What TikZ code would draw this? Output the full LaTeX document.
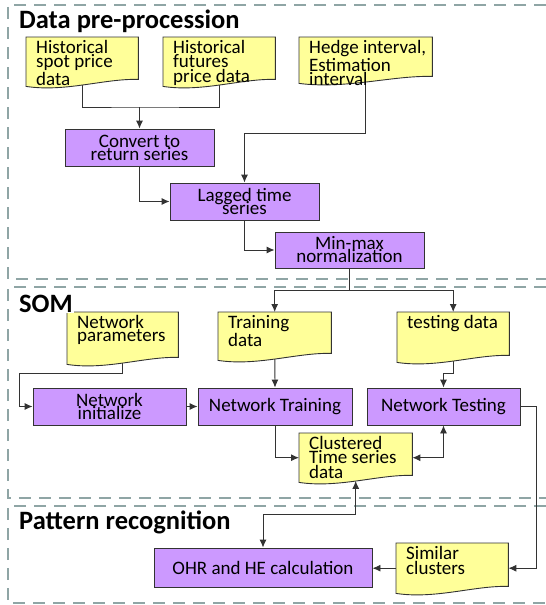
\documentclass[tikz,border=0pt]{standalone}
\usepackage{fontspec}
\setmainfont{Carlito}
\usetikzlibrary{arrows.meta,calc}
\pgfdeclarelayer{frames}
\pgfdeclarelayer{wires}
\pgfdeclarelayer{shapes}
\pgfsetlayers{frames,wires,shapes,main}
\definecolor{docfill}{HTML}{FFFF99}
\definecolor{procfill}{HTML}{CC99FF}
\definecolor{framegray}{HTML}{8FA5A5}
\definecolor{edgecol}{HTML}{333333}
\lineskiplimit=-30pt\relax
\newcommand\doctext[3]{\parbox[c][#2pt][t]{#1pt}{\raggedright\leftskip=10pt\relax\rule{0pt}{16.5pt}#3}}
\newcommand\docshape[1]{%
  \begin{pgfonlayer}{shapes}
  \draw[docline] (#1.north west) -- (#1.north east) -- ($(#1.south east)+(0,-7)$)
    .. controls ($(#1.south west)!0.7!(#1.south east)+(0,-8)$) and ($(#1.south west)!0.35!(#1.south east)+(0,6)$) .. (#1.south west) -- cycle;
  \end{pgfonlayer}}
\tikzset{
  txt/.style={font=\fontsize{19}{13}\selectfont},
  docn/.style={txt, inner sep=0pt, anchor=north west},
  docline/.style={draw=edgecol, fill=docfill, line width=0.9pt},
  proc/.style={txt, draw=edgecol, fill=procfill, line width=0.9pt, align=center, inner sep=0pt},
  wire/.style={draw=edgecol, line width=0.9pt},
  arr/.style={wire, -{Latex[length=8pt,width=7pt]}},
  arr2/.style={wire, {Latex[length=8pt,width=7pt]}-{Latex[length=8pt,width=7pt]}},
  frame/.style={draw=framegray, line width=2.6pt, dash pattern=on 12pt off 8pt},
  title/.style={font=\fontsize{26.5}{28}\selectfont\bfseries, inner sep=0pt, anchor=base west},
}
\begin{document}
\begin{tikzpicture}[x=1pt,y=-1pt]
\useasboundingbox (0,0) rectangle (546,605);
% frames
\begin{pgfonlayer}{frames}
\draw[frame] (546,5) -- (8,5) -- (8,279) -- (546,279);
\draw[frame] (546,287) -- (8,287) -- (8,498) -- (546,498);
\draw[frame] (546,506) -- (8,506) -- (8,603) -- (546,603);
\end{pgfonlayer}
% documents
\node[docn] (d1) at (26,37) {\doctext{112}{49}{Historical\\spot price\\data}};
\node[docn] (d2) at (163,37) {\doctext{112}{49}{Historical\\futures\\price data}};
\node[docn] (d3) at (299,37) {\doctext{133}{46}{Hedge interval,\\Estimation\\interval}};
\node[docn] (par) at (67,312) {\doctext{111}{52}{Network\\parameters}};
\node[docn] (trd) at (218,312) {\doctext{113}{48}{Training\\data}};
\node[docn] (tsd) at (397,312) {\doctext{112}{50}{testing data}};
\node[docn] (clu) at (299,433) {\doctext{113}{49}{Clustered\\Time series\\data}};
\node[docn] (sim) at (396,543) {\doctext{112}{50}{Similar\\clusters}};
\docshape{d1}\docshape{d2}\docshape{d3}\docshape{par}
\docshape{trd}\docshape{tsd}\docshape{clu}\docshape{sim}
% process boxes
\node[proc, minimum width=149pt, minimum height=37pt] (conv) at (139.5,147.5) {Convert to\\return series};
\node[proc, minimum width=149pt, minimum height=37pt] (lag) at (244.5,201.5) {Lagged time\\series};
\node[proc, minimum width=149pt, minimum height=36pt] (mm) at (349.5,250) {Min-max\\normalization};
\node[proc, minimum width=153pt, minimum height=37pt] (init) at (109.5,406.5) {Network\\initialize};
\node[proc, minimum width=154pt, minimum height=37pt] (trn) at (275,406.5) {Network Training};
\node[proc, minimum width=153pt, minimum height=37pt] (tst) at (443.5,406.5) {Network Testing};
\node[proc, minimum width=218pt, minimum height=39pt] (ohr) at (263,567.5) {OHR and HE calculation};
% junctions
\coordinate (j1) at (139.5,107);
\coordinate (j2) at (244.5,133);
\coordinate (j3) at (349.5,290);
\coordinate (j4) at (19,373);
\coordinate (j5) at (443.5,373);
\coordinate (j6) at (263,514);
\coordinate (j7) at (536,406.5);
% connectors
\begin{pgfonlayer}{wires}
\draw[wire] (d1.center) |- (j1) -| (d2.center);
\draw[arr] (j1) -- (conv.north);
\draw[arr] (d3.center) |- (j2) -- (lag.north);
\draw[arr] (conv.south) |- (lag.west);
\draw[arr] (lag.south) |- (mm.west);
\draw[wire] (mm.south) -- (j3);
\draw[arr] (j3) -| (trd.north);
\draw[arr] (j3) -| (tsd.north);
\draw[arr] (par.center) |- (j4) |- (init.west);
\draw[arr] (init.east) -- (trn.west);
\draw[arr] (trd.center) -- (trn.north);
\draw[arr] (tsd.center) |- (j5) -- (tst.north);
\draw[arr] (trn.south) |- (clu.west);
\draw[arr2] (clu.east) -| (tst.south);
\draw[arr2] ($(clu.south)+(0,-1.5)$) |- (j6) -- (ohr.north);
\draw[arr] (tst.east) -- (j7) |- (sim.east);
\draw[arr] (sim.west) -- (sim.west -| ohr.east);
\end{pgfonlayer}
% titles
\node[title] (t1) at (19,28) {Data pre-procession};
\node[title, fill=white, inner sep=1pt] (t2) at (18,312) {SOM};
\node[title] (t3) at (19,529) {Pattern recognition};
\end{tikzpicture}
\end{document}
